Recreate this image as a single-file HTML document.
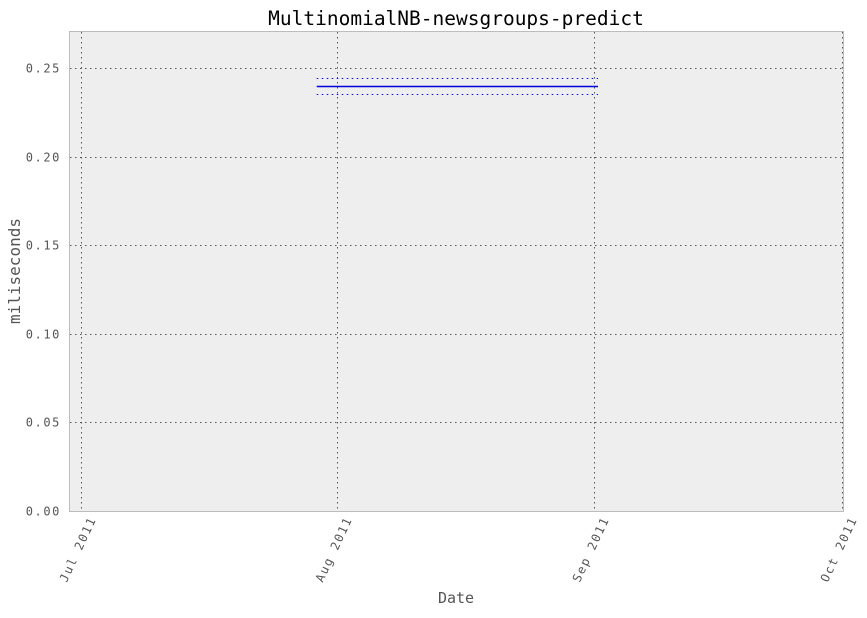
<!DOCTYPE html>
<html><head><meta charset="utf-8"><style>
body{margin:0;background:#fff;}
text{font-family:"DejaVu Sans Mono","Liberation Mono",monospace;}
</style></head><body>
<svg width="867" height="613" xmlns="http://www.w3.org/2000/svg">
<rect x="69.5" y="31.5" width="774" height="480" fill="#eeeeee" stroke="#bcbcbc"/>
<g id="grid"></g>
<g id="series"></g>
<g id="axes"></g>
<text x="456" y="25" font-size="19.5" text-anchor="middle" fill="#000">MultinomialNB-newsgroups-predict</text>
<text x="456" y="603" font-size="15" text-anchor="middle" fill="#555">Date</text>
<text transform="translate(20,271) rotate(-90)" font-size="16" text-anchor="middle" fill="#555">miliseconds</text>
</svg>
<script>
const yTicks=[0,0.05,0.10,0.15,0.20,0.25];
const yTickLabels=["0.00","0.05","0.10","0.15","0.20","0.25"];
const xTickDays=[0,31,62,92];
const xTickLabels=["Jul 2011","Aug 2011","Sep 2011","Oct 2011"];
const seriesDays=[28.5,62.5];
const seriesMean=[0.240,0.240];
const seriesUpper=[0.2445,0.2445];
const seriesLower=[0.2353,0.2353];
const NS="http://www.w3.org/2000/svg";
const x=d=>81+d*(842-81)/92;
const y=v=>511-v*(443/0.25);
function mk(tag,attrs,parent){const e=document.createElementNS(NS,tag);for(const k in attrs)e.setAttribute(k,attrs[k]);document.getElementById(parent).appendChild(e);return e;}
yTicks.forEach((v,i)=>{
 const yy=Math.round(y(v))+0.5;
 if(v>0){const g=mk('line',{x1:70,x2:843,y1:yy,y2:yy,stroke:'#555','stroke-dasharray':'1.5,3.5'},'grid');
 
 }
 const t=mk('text',{x:61,y:yy+4,'font-size':12,'letter-spacing':1.6,'text-anchor':'end',fill:'#555'},'axes');
 t.textContent=yTickLabels[i];
 
 
});
xTickDays.forEach((d,i)=>{
 const xx=Math.round(x(d))+0.5;
 const g=mk('line',{x1:xx,x2:xx,y1:32,y2:511,stroke:'#555','stroke-dasharray':'1.5,3.5'},'grid');
 
 
 const t=mk('text',{transform:`translate(${xx+15},519) rotate(-65)`,'font-size':12,'letter-spacing':1.6,'text-anchor':'end',fill:'#555'},'axes');
 t.textContent=xTickLabels[i];
 
 
});
function pts(vals){return seriesDays.map((d,i)=>x(d)+','+(Math.round(y(vals[i]))+0.5)).join(' ');}
const m=mk('polyline',{points:pts(seriesMean),fill:'none',stroke:'#0000dd','stroke-width':1.5},'series');


const u=mk('polyline',{points:pts(seriesUpper),fill:'none',stroke:'#0000ff','stroke-width':1,'stroke-dasharray':'1.5,3.5'},'series');


const l=mk('polyline',{points:pts(seriesLower),fill:'none',stroke:'#0000ff','stroke-width':1,'stroke-dasharray':'1.5,3.5'},'series');


</script>
</body></html>
